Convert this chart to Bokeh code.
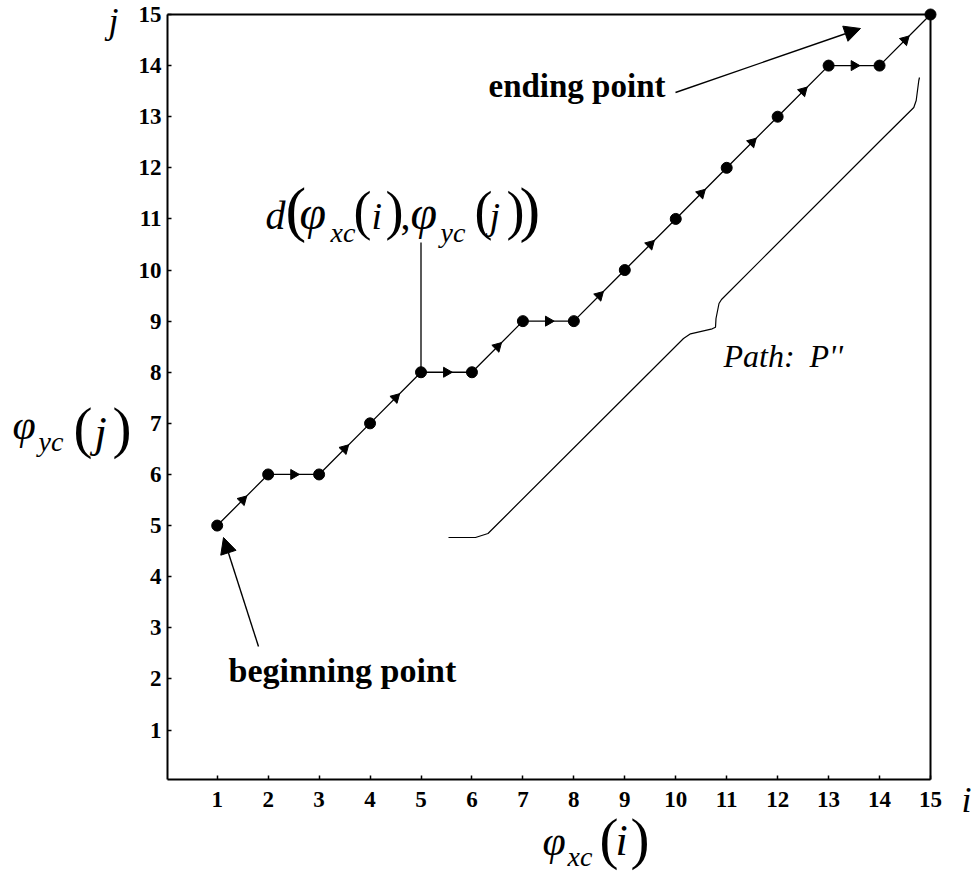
import math
from bokeh.plotting import figure
from bokeh.models import Range1d, FixedTicker, Label, Arrow, NormalHead
from bokeh.embed import file_html
from bokeh.resources import INLINE

# ---------------- data ----------------
i_vals = [1, 2, 3, 4, 5, 6, 7, 8, 9, 10, 11, 12, 13, 14, 15]
j_vals = [5, 6, 6, 7, 8, 8, 9, 9, 10, 11, 12, 13, 14, 14, 15]
x_ticks = list(range(1, 16))
y_ticks = list(range(1, 16))

# ---------------- layout (canvas pixels; the frame fills the canvas) ----------------
CANVAS_W, CANVAS_H = 976, 874
SX = (930 - 216.7) / 14.0          # px per i unit
SY = (729.5 - 14.0) / 14.0         # px per j unit
X_START = 1 - 216.7 / SX
X_END = X_START + CANVAS_W / SX
Y_END = 15 + 14.0 / SY
Y_START = Y_END - CANVAS_H / SY
AXIS_X = X_START + 167 / SX        # location of the left axis line
AXIS_Y = Y_END - 779 / SY          # location of the bottom axis line


def D(px, py):
    """canvas pixel -> data coordinates"""
    return X_START + px / SX, Y_END - py / SY


SERIF = "Liberation Serif"

p = figure(frame_width=CANVAS_W, frame_height=CANVAS_H,
           min_border_left=0, min_border_right=0,
           min_border_top=0, min_border_bottom=0,
           x_range=Range1d(X_START, X_END), y_range=Range1d(Y_START, Y_END),
           output_backend="svg", toolbar_location=None,
           background_fill_color="white", border_fill_color="white")
p.outline_line_color = None
p.grid.visible = False

for ax, ticks in ((p.xaxis, x_ticks), (p.yaxis, y_ticks)):
    ax.ticker = FixedTicker(ticks=ticks)
    ax.axis_line_width = 2
    ax.axis_line_color = "black"
    ax.major_tick_in = 4
    ax.major_tick_out = 0
    ax.major_tick_line_width = 1.5
    ax.major_tick_line_color = "black"
    ax.minor_tick_line_color = None
    ax.major_label_text_font = SERIF
    ax.major_label_text_font_style = "bold"
    ax.major_label_text_font_size = "23px"
    ax.major_label_text_color = "black"
p.xaxis.fixed_location = AXIS_Y
p.yaxis.fixed_location = AXIS_X
p.xaxis.bounds = (AXIS_X, x_ticks[-1])
p.yaxis.bounds = (AXIS_Y, y_ticks[-1])
p.xaxis.major_label_standoff = 12
p.yaxis.major_label_standoff = 6

# top / right border of the box
p.line([AXIS_X, x_ticks[-1]], [y_ticks[-1], y_ticks[-1]], line_color="black", line_width=2)
p.line([x_ticks[-1], x_ticks[-1]], [AXIS_Y, y_ticks[-1]], line_color="black", line_width=2)

# ---------------- warping path ----------------
p.line(i_vals, j_vals, line_color="black", line_width=1.3)
p.scatter(i_vals, j_vals, marker="circle", size=11, color="black")

mx, my, ang = [], [], []
for k in range(len(i_vals) - 1):
    dx = i_vals[k + 1] - i_vals[k]
    dy = j_vals[k + 1] - j_vals[k]
    mx.append(i_vals[k] + dx / 2)
    my.append(j_vals[k] + dy / 2)
    ang.append(math.atan2(dy * SY, dx * SX) - math.pi / 2)
p.scatter(mx, my, marker="triangle", size=10, angle=ang, color="black")

# ---------------- annotations ----------------
# connector from d(...) label down to the point (5, 8)
_, cy_top = D(421, 242)
p.line([i_vals[4], i_vals[4]], [cy_top, j_vals[4] + 0.1], line_color="black", line_width=1.3)

# brace for "Path: P''"
brace_px = [(448, 537), (475, 537), (487.5, 533), (683, 338), (690, 333.3),
            (711.7, 328.3), (715, 326.7), (715.5, 318), (718.5, 303), (721, 299),
            (880, 140), (913.3, 107), (915.7, 100), (918.3, 80), (919, 77)]
bx = [D(a, b)[0] for a, b in brace_px]
by = [D(a, b)[1] for a, b in brace_px]
p.line(bx, by, line_color="black", line_width=1.2)

# arrows
for (sx_, sy_), (ex_, ey_) in (((675, 92), (860, 28)), ((258, 646), (223, 537))):
    xs, ys = D(sx_, sy_)
    xe, ye = D(ex_, ey_)
    p.add_layout(Arrow(end=NormalHead(size=16, fill_color="black", line_color="black"),
                       x_start=xs, y_start=ys, x_end=xe, y_end=ye,
                       line_color="black", line_width=1.4))

BASE_SHIFT = 0.37   # measured offset of Bokeh's alphabetic baseline, in em


def lab(text, px, py, size, style="normal"):
    x, y = D(px, py - BASE_SHIFT * size)
    p.add_layout(Label(x=x, y=y, text=text, text_font=SERIF, text_font_style=style,
                       text_font_size=f"{size}px", text_color="black",
                       text_baseline="alphabetic", text_align="left"))


lab("ending point", 488, 98, 33, "bold")
lab("beginning point", 228, 683, 34, "bold")
lab("Path:", 723, 367, 32, "italic")
lab("P''", 809, 367, 32, "italic")

# d(phi_xc(i), phi_yc(j))
lab("d", 265, 230, 40, "italic")
lab("(", 285, 231, 62)
lab("\u03c6", 299, 230, 48, "italic")
lab("xc", 330, 242, 28, "italic")
lab("(", 353, 230, 54)
lab("i", 371, 230, 38, "italic")
lab(")", 385, 230, 54)
lab(",", 400, 230, 40)
lab("\u03c6", 410, 230, 48, "italic")
lab("yc", 440, 242, 28, "italic")
lab("(", 474, 230, 54)
lab("j", 489, 230, 38, "italic")
lab(")", 506, 230, 54)
lab(")", 519, 231, 62)

# axis titles
lab("\u03c6", 12, 440, 42, "italic")
lab("yc", 38, 451, 28, "italic")
lab("(", 73, 448, 57)
lab("j", 94, 448, 44, "italic")
lab(")", 112, 448, 57)

lab("\u03c6", 542, 856, 42, "italic")
lab("xc", 567, 866, 28, "italic")
lab("(", 599, 859, 57)
lab("i", 615, 856, 44, "italic")
lab(")", 630, 859, 57)

lab("i", 961, 813, 36, "italic")
lab("j", 108, 34, 36, "italic")

open("out.html", "w").write(file_html(p, INLINE))
